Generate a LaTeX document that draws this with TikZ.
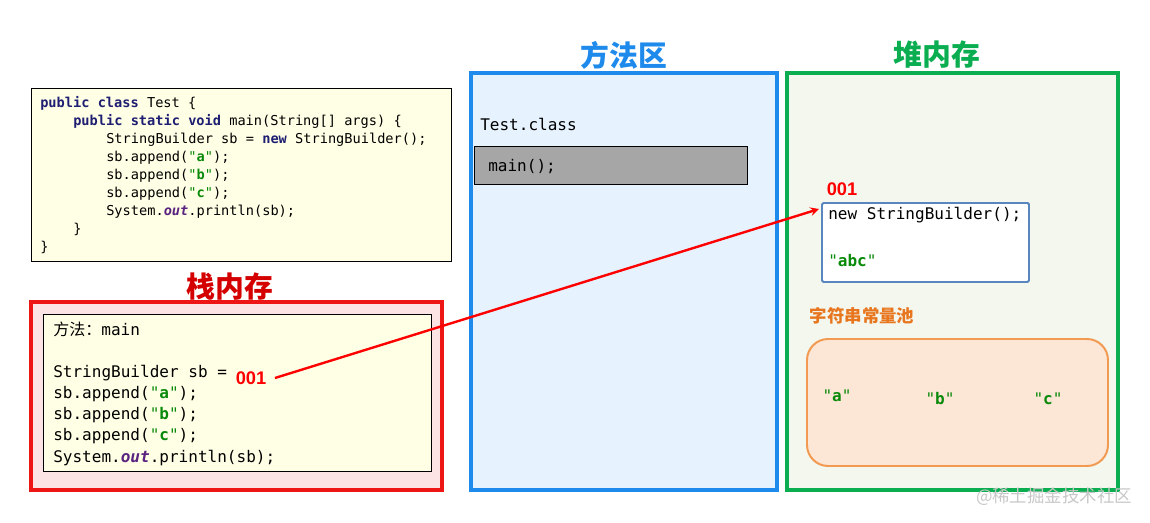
\documentclass[tikz,border=0pt]{standalone}
\usepackage{fontspec}
\setmonofont{DejaVu Sans Mono}
\setsansfont{Liberation Sans}
\newfontfamily\cjk{Noto Sans CJK SC}
\usetikzlibrary{fit}

\definecolor{kwcol}{HTML}{1E1E72}
\definecolor{strcol}{HTML}{0A8A0A}
\definecolor{fieldcol}{HTML}{5B2380}
\definecolor{codefill}{HTML}{FFFFE6}
\definecolor{stackred}{HTML}{EE1515}
\definecolor{stackfill}{HTML}{FCE4E4}
\definecolor{stacktitle}{HTML}{D40000}
\definecolor{methodblue}{HTML}{1E8AEB}
\definecolor{methodfill}{HTML}{E6F2FD}
\definecolor{heapgreen}{HTML}{0AAE50}
\definecolor{heapfill}{HTML}{F3F7EE}
\definecolor{objblue}{HTML}{5A86C0}
\definecolor{poolfill}{HTML}{FCE6D6}
\definecolor{poolline}{HTML}{F29A52}
\definecolor{pooltext}{HTML}{E8761E}

\newcommand{\kw}[1]{\textcolor{kwcol}{\bfseries #1}}
\newcommand{\str}[1]{\textcolor{strcol}{"\textbf{#1}"}}
\newcommand{\fld}[1]{\textcolor{fieldcol}{\bfseries\itshape #1}}

\begin{document}
\begin{tikzpicture}[x=0.025cm, y=-0.025cm, >=stealth,
    code/.style={font=\ttfamily\fontsize{9.7}{12}\selectfont, inner sep=0, anchor=base west},
    mem/.style={font=\ttfamily\fontsize{11.4}{14}\selectfont, inner sep=0, anchor=base west},
    title/.style={font=\cjk\bfseries\fontsize{20.5}{24}\selectfont},
    addr/.style={font=\sffamily\bfseries\fontsize{13}{15}\selectfont, text=red},
    area/.style={inner sep=0, line width=2.2pt}]
    \useasboundingbox (0,0) rectangle (1150,523);

    % Source code
    \node[fit={(31,88) (451,261)}, area, draw=black, line width=0.6pt, fill=codefill] (srcbox) {};
    \node[code] (src1) at (40,108) {\kw{public} \kw{class} Test \{};
    \node[code] (src2) at (73,126) {\kw{public} \kw{static} \kw{void} main(String[] args) \{};
    \node[code] (src3) at (106,144) {StringBuilder sb = \kw{new} StringBuilder();};
    \node[code] (src4) at (106,162) {sb.append(\str{a});};
    \node[code] (src5) at (106,180) {sb.append(\str{b});};
    \node[code] (src6) at (106,198) {sb.append(\str{c});};
    \node[code] (src7) at (106,216) {System.\fld{out}.println(sb);};
    \node[code] (src8) at (73,234) {\}};
    \node[code] (src9) at (40,252) {\}};

    % Stack
    \node[title, text=stacktitle] (stacktitle) at (230,287) {栈内存};
    \node[fit={(31,302) (442,490)}, area, draw=stackred, fill=stackfill] (stack) {};
    \node[fit={(43,314) (431,471)}, area, draw=black, line width=0.6pt, fill=codefill] (frame) {};
    \node[mem] (fr1) at (53,336) {{\cjk 方法：}main};
    \node[mem] (fr2) at (53,378) {StringBuilder sb =};
    \node[mem] (fr3) at (53,399) {sb.append(\str{a});};
    \node[mem] (fr4) at (53,420) {sb.append(\str{b});};
    \node[mem] (fr5) at (53,441) {sb.append(\str{c});};
    \node[mem] (fr6) at (53,462) {System.\fld{out}.println(sb);};
    \node[addr, inner xsep=6pt] (sbref) at (251,378) {001};

    % Method area
    \node[title, text=methodblue] (methodtitle) at (624,55) {方法区};
    \node[fit={(471,73) (777,490)}, area, draw=methodblue, fill=methodfill] (method) {};
    \node[mem] (cls) at (480,131) {Test.class};
    \node[fit={(474,146) (747,184)}, area, draw=black, line width=0.6pt, fill=black!35] (mainbox) {};
    \node[mem] (mainm) at (488,172) {main();};

    % Heap
    \node[title, text=heapgreen] (heaptitle) at (937,55) {堆内存};
    \node[fit={(787,73) (1118,490)}, area, draw=heapgreen, fill=heapfill] (heap) {};
    \node[addr] (objaddr) at (842,189) {001};
    \node[fit={(822,203) (1029,282)}, area, draw=objblue, line width=1.4pt, fill=white, rounded corners=1pt] (sbobj) {};
    \node[mem] (objnew) at (828,220) {new StringBuilder();};
    \node[mem] (objval) at (828,267) {\str{abc}};
    \coordinate (objin) at (819,209);

    % String constant pool
    \node[font=\cjk\bfseries\fontsize{12.4}{14}\selectfont, text=pooltext] (pooltitle) at (862,316) {字符串常量池};
    \node[fit={(807,339) (1108,466)}, area, draw=poolline, line width=1.4pt, fill=poolfill, rounded corners=15pt] (pool) {};
    \node[mem, anchor=center] (pa) at (837,396) {\str{a}};
    \node[mem, anchor=center] (pb) at (940,399) {\str{b}};
    \node[mem, anchor=center] (pc) at (1048,399) {\str{c}};

    % Reference
    \draw[->, red, line width=1.7pt] (sbref.east) -- (objin);

    \node[font=\cjk\fontsize{12.4}{14}\selectfont, text=black!22] (mark) at (1054,497) {@稀土掘金技术社区};
\end{tikzpicture}
\end{document}
